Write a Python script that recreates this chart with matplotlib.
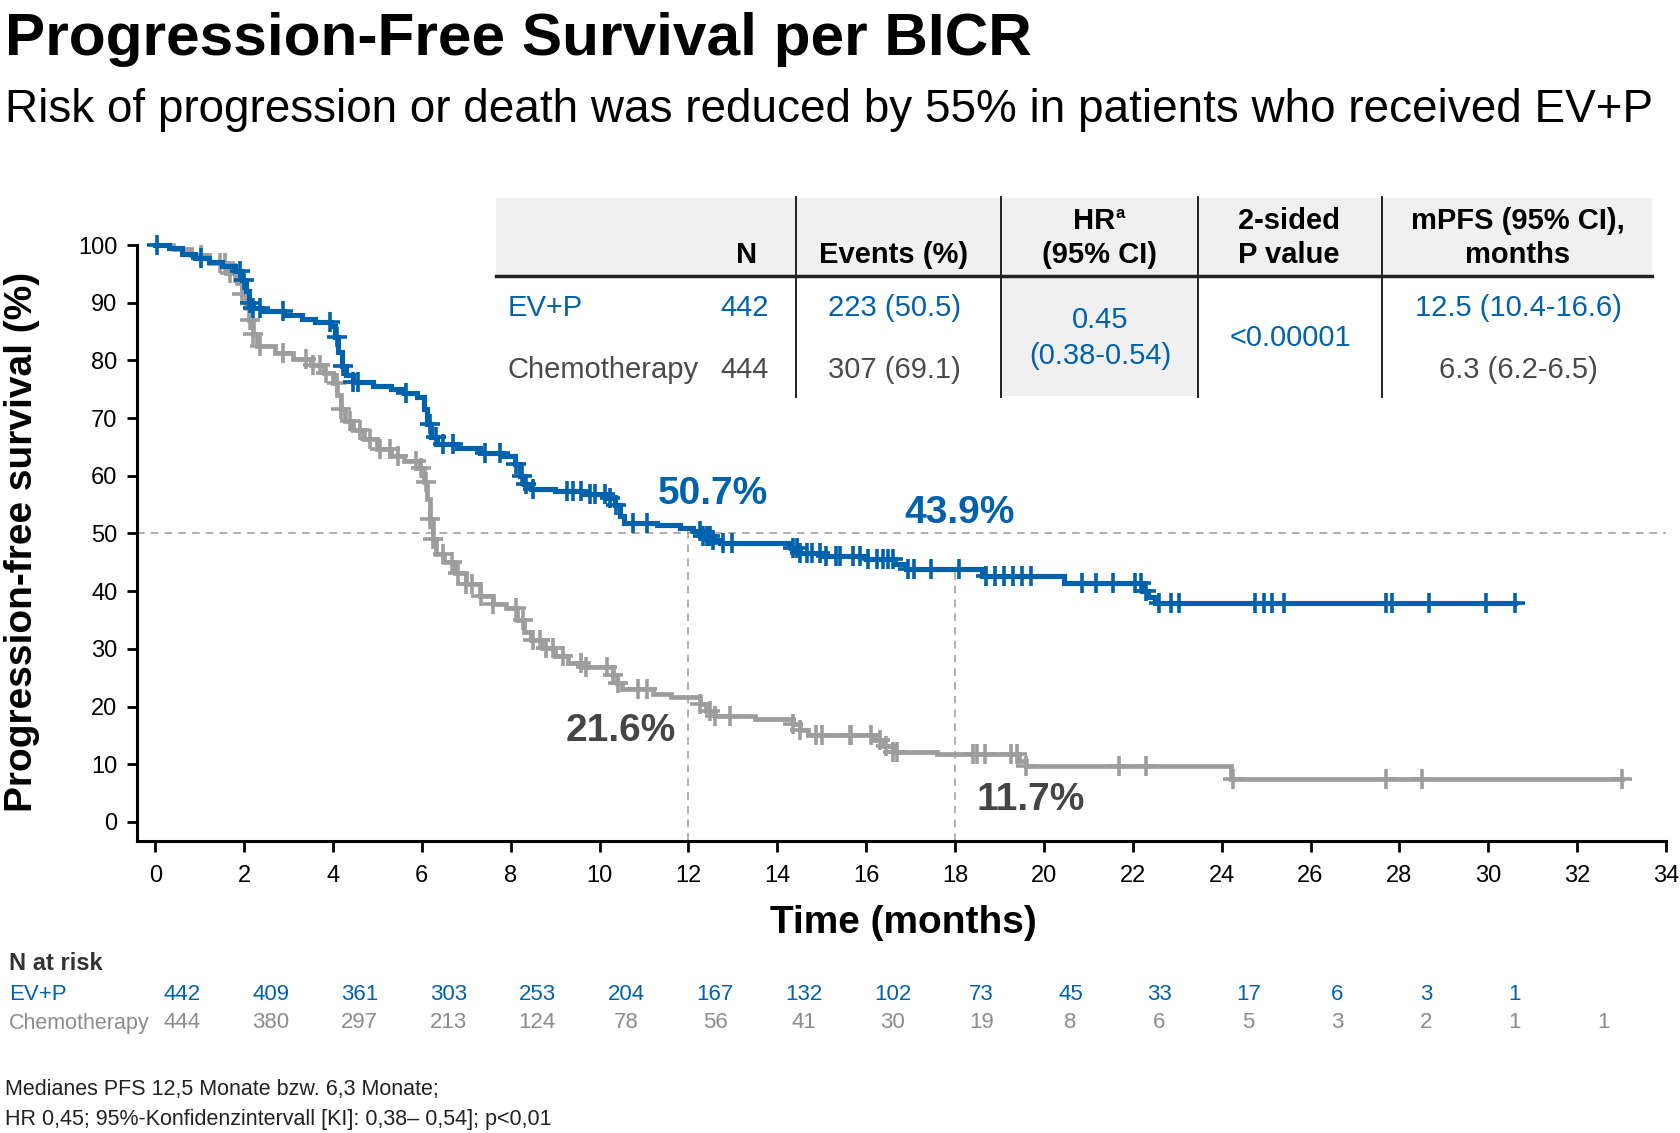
import numpy as np
import matplotlib
matplotlib.use("Agg")
import matplotlib.pyplot as plt
from matplotlib.patches import Rectangle
from matplotlib.lines import Line2D
import matplotlib.transforms as mtransforms

# ---------------- data ----------------
ev_times = [0, 0.3, 0.6, 0.9, 1.2, 1.5, 1.8, 1.95, 2.05, 2.12, 2.2, 2.4, 2.9, 3.3, 3.6, 3.95,
            4.05, 4.12, 4.2, 4.3, 4.45, 4.9, 5.3, 5.6, 5.9, 6.05, 6.12, 6.2, 6.35, 6.8, 7.3,
            7.8, 8.1, 8.2, 8.3, 8.45, 9.0, 9.6, 10.2, 10.35, 10.45, 10.55, 11.3, 11.8, 12.1,
            12.3, 12.5, 12.7, 14.3, 14.5, 15.0, 16.0, 16.65, 16.9, 18.6, 20.45, 22.2, 22.35,
            22.5, 30.6]
ev_surv = [100, 99.5, 98.5, 97.7, 97.0, 96.3, 95.5, 94.0, 92.0, 90.0, 89.0, 88.5, 87.9, 87.2,
           86.6, 85.9, 84.0, 81.5, 79.0, 77.5, 76.3, 75.6, 75.0, 74.4, 73.6, 71.5, 69.0, 66.8,
           65.5, 64.8, 64.0, 63.4, 62.0, 60.0, 58.5, 57.7, 57.3, 56.9, 56.2, 55.0, 53.0, 51.8,
           51.4, 51.0, 50.5, 49.5, 48.8, 48.3, 47.5, 46.6, 46.1, 45.5, 44.7, 43.9, 42.6, 41.5,
           40.0, 39.0, 38.0, 38.0]
ev_censor = [0.03, 1.04, 1.9, 2.0, 2.13, 2.2, 2.35, 2.88, 3.93, 4.08, 4.23, 4.45, 4.57, 5.65,
             6.18, 6.33, 6.48, 6.7, 7.42, 7.76, 8.13, 8.25, 8.35, 8.5, 9.26, 9.4, 9.59, 9.78,
             9.9, 10.12, 10.23, 10.38, 10.76, 11.06, 12.26, 12.33, 12.41, 12.48, 12.56, 12.78,
             12.97, 14.36, 14.44, 14.51, 14.66, 14.77, 14.96, 15.09, 15.33, 15.4, 15.7, 15.86,
             16.05, 16.24, 16.37, 16.5, 16.6, 16.94, 17.07, 17.45, 18.1, 18.7, 18.9, 19.1, 19.3,
             19.5, 19.7, 20.85, 21.17, 21.55, 22.06, 22.19, 22.3, 22.6, 22.85, 23.05, 24.75,
             24.95, 25.14, 25.4, 27.7, 27.83, 28.66, 29.94, 30.6]

ch_times = [0, 0.4, 0.8, 1.2, 1.6, 1.85, 1.95, 2.05, 2.12, 2.2, 2.3, 2.7, 3.1, 3.5, 3.8, 4.0,
            4.1, 4.18, 4.28, 4.45, 4.7, 5.0, 5.3, 5.6, 5.95, 6.05, 6.12, 6.18, 6.25, 6.32, 6.5,
            6.75, 7.0, 7.3, 7.6, 7.9, 8.15, 8.3, 8.45, 8.7, 9.0, 9.3, 9.65, 10.3, 10.4, 10.5,
            11.2, 11.6, 12.25, 12.4, 12.6, 13.5, 14.35, 14.5, 14.7, 16.2, 16.4, 16.6, 17.6,
            19.45, 19.6, 24.2, 33.0]
ch_surv = [100, 99.3, 98.2, 96.8, 95.2, 93.5, 91.5, 89.0, 87.0, 84.5, 82.5, 81.3, 80.2, 79.2,
           77.8, 76.0, 74.0, 71.5, 69.5, 68.0, 66.3, 64.6, 63.4, 62.6, 61.4, 59.0, 56.0, 52.5,
           49.0, 46.5, 45.0, 43.2, 41.3, 39.2, 37.7, 37.0, 35.0, 33.0, 31.5, 30.2, 28.8, 27.6,
           26.8, 25.5, 24.0, 23.0, 22.2, 21.6, 20.5, 19.3, 18.4, 17.8, 17.0, 16.0, 15.1, 14.2,
           13.2, 12.2, 11.7, 10.5, 9.7, 7.4, 7.4]
ch_censor = [1.04, 1.45, 1.57, 1.68, 1.79, 1.95, 2.13, 2.2, 2.35, 2.88, 3.4, 3.55, 3.7, 3.85,
             4.08, 4.19, 4.38, 4.6, 4.83, 5.06, 5.28, 5.47, 5.88, 5.99, 6.1, 6.18, 6.26, 6.48,
             6.67, 6.82, 7.0, 7.12, 7.34, 7.6, 8.13, 8.28, 8.5, 8.66, 8.8, 8.95, 9.18, 9.59, 9.7,
             10.16, 10.3, 10.42, 10.87, 11.06, 12.26, 12.48, 12.6, 12.93, 14.36, 14.51, 14.88,
             15.0, 15.63, 15.66, 16.1, 16.3, 16.45, 16.6, 16.7, 18.4, 18.5, 18.67, 19.25, 19.4,
             19.6, 21.7, 22.3, 24.25, 27.7, 28.5, 33.0]

risk_times = [0, 2, 4, 6, 8, 10, 12, 14, 16, 18, 20, 22, 24, 26, 28, 30, 32]
risk_ev = [442, 409, 361, 303, 253, 204, 167, 132, 102, 73, 45, 33, 17, 6, 3, 1]
risk_ch = [444, 380, 297, 213, 124, 78, 56, 41, 30, 19, 8, 6, 5, 3, 2, 1, 1]

landmarks = [12, 18]
ev_landmark = [50.7, 43.9]
ch_landmark = [21.6, 11.7]

table_groups = ["EV+P", "Chemotherapy"]
table_n = [442, 444]
table_events = ["223 (50.5)", "307 (69.1)"]
table_hr = ["0.45", "(0.38-0.54)"]
table_p = "<0.00001"
table_mpfs = ["12.5 (10.4-16.6)", "6.3 (6.2-6.5)"]

# ---------------- style ----------------
plt.rcParams["font.family"] = ["Liberation Sans", "DejaVu Sans"]
BLUE = "#0062AD"
GRAY = "#9D9D9D"
DARK = "#4A4A4A"
ANN_GRAY = "#454545"
RISK_GRAY = "#8C8C8C"

W, H = 1680, 1133
fig = plt.figure(figsize=(W / 100, H / 100), dpi=100)


def fx(px):
    return px / W


def fy(py):
    return 1 - py / H


# titles
fig.text(fx(5), fy(55), "Progression-Free Survival per BICR", fontsize=43.5, fontweight="bold",
         ha="left", va="baseline", color="black")
fig.text(fx(5), fy(122), "Risk of progression or death was reduced by 55% in patients who received EV+P",
         fontsize=33, ha="left", va="baseline", color="black")

# main axes
ax = fig.add_axes([fx(137), fy(841), (1666 - 137) / W, (841 - 245) / H])
ax.set_xlim(-0.41, 34)
ax.set_ylim(-3.3, 100)
for s in ["top", "right"]:
    ax.spines[s].set_visible(False)
for s in ["left", "bottom"]:
    ax.spines[s].set_linewidth(2.2)
ax.set_xticks(np.arange(0, 35, 2))
ax.set_yticks(np.arange(0, 101, 10))
ax.tick_params(axis="x", length=8, width=2, pad=9, labelsize=17)
ax.tick_params(axis="y", length=7, width=2, pad=7, labelsize=17)

# reference dashed lines
dash = dict(color="#9A9A9A", lw=1.1, dashes=(5, 4))
ax.plot([-0.41, 34], [50, 50], clip_on=False, **dash)
for t, v in zip(landmarks, ev_landmark):
    ax.plot([t, t], [-3.3, v], **dash)


def step_val(times, surv, t):
    i = np.searchsorted(times, t, side="right") - 1
    return surv[max(i, 0)]


# curves
for times, surv, cens, col, lw in [(ch_times, ch_surv, ch_censor, GRAY, 3.4),
                                    (ev_times, ev_surv, ev_censor, BLUE, 3.7)]:
    ax.step(times, surv, where="post", color=col, lw=lw, clip_on=False, zorder=3,
            solid_joinstyle="miter")
    cy = [step_val(np.array(times), surv, c) for c in cens]
    ax.plot(cens, cy, linestyle="none", marker="+", markersize=15, mew=2.6, color=col,
            clip_on=False, zorder=3)

# landmark labels
ax.text(12.56, 56.9, f"{ev_landmark[0]}%", color=BLUE, fontsize=28, fontweight="bold",
        ha="center", va="center")
ax.text(18.1, 53.6, f"{ev_landmark[1]}%", color=BLUE, fontsize=28, fontweight="bold",
        ha="center", va="center")
ax.text(10.48, 15.8, f"{ch_landmark[0]}%", color=ANN_GRAY, fontsize=28, fontweight="bold",
        ha="center", va="center")
ax.text(19.7, 3.8, f"{ch_landmark[1]}%", color=ANN_GRAY, fontsize=28, fontweight="bold",
        ha="center", va="center")

# axis labels
fig.text(fx(903), fy(923), "Time (months)", fontsize=28, fontweight="bold", ha="center",
         va="center")
fig.text(fx(22), fy(542), "Progression-free survival (%)", fontsize=28, fontweight="bold",
         ha="center", va="center", rotation=90)

# ---------------- table ----------------
fig.patches.append(Rectangle((fx(496), fy(276)), (1652 - 496) / W, (276 - 198) / H,
                             transform=fig.transFigure, facecolor="#F0F0F0", edgecolor="none",
                             zorder=0))
fig.patches.append(Rectangle((fx(1001), fy(396)), (1198 - 1001) / W, (396 - 276) / H,
                             transform=fig.transFigure, facecolor="#F0F0F0", edgecolor="none",
                             zorder=0))
fig.lines.append(Line2D([fx(496), fx(1652)], [fy(276), fy(276)], transform=fig.transFigure,
                        color="#222222", lw=2.5))
for vx in [796, 1001, 1198, 1382]:
    fig.lines.append(Line2D([fx(vx), fx(vx)], [fy(197), fy(397)], transform=fig.transFigure,
                            color="#222222", lw=1.4))

hdr = dict(fontsize=21, fontweight="bold", va="center", color="black")
fig.text(fx(757), fy(255), "N", ha="right", **hdr)
fig.text(fx(894), fy(255), "Events (%)", ha="center", **hdr)
fig.text(fx(1094), fy(221), "HR", ha="center", **hdr)
fig.text(fx(1116), fy(213), "a", ha="left", fontsize=12, fontweight="bold", va="center",
         color="black")
fig.text(fx(1100), fy(255), "(95% CI)", ha="center", **hdr)
fig.text(fx(1289), fy(221), "2-sided", ha="center", **hdr)
fig.text(fx(1289), fy(255), "P value", ha="center", **hdr)
fig.text(fx(1518), fy(221), "mPFS (95% CI),", ha="center", **hdr)
fig.text(fx(1518), fy(255), "months", ha="center", **hdr)

row_y = [308, 370]
row_col = [BLUE, DARK]
for i in range(2):
    kw = dict(fontsize=21, va="center", color=row_col[i])
    fig.text(fx(508), fy(row_y[i]), table_groups[i], ha="left", **kw)
    fig.text(fx(769), fy(row_y[i]), str(table_n[i]), ha="right", **kw)
    fig.text(fx(894), fy(row_y[i]), table_events[i], ha="center", **kw)
    fig.text(fx(1518), fy(row_y[i]), table_mpfs[i], ha="center", **kw)
fig.text(fx(1100), fy(320), table_hr[0], ha="center", va="center", fontsize=21, color=BLUE)
fig.text(fx(1100), fy(356), table_hr[1], ha="center", va="center", fontsize=21, color=BLUE)
fig.text(fx(1290), fy(338), table_p, ha="center", va="center", fontsize=21, color=BLUE)

# ---------------- number at risk ----------------
fig.text(fx(9), fy(964), "N at risk", fontsize=17, fontweight="bold", ha="left", va="center",
         color="#333333")
fig.text(fx(9), fy(994), "EV+P", fontsize=16, ha="left", va="center", color=BLUE)
fig.text(fx(9), fy(1023), "Chemotherapy", fontsize=15.5, ha="left", va="center",
         color=RISK_GRAY)
blend = mtransforms.blended_transform_factory(ax.transData, fig.transFigure)
for t, n in zip(risk_times, risk_ev):
    fig.text(t + 0.6, fy(994), str(n), transform=blend, fontsize=16, ha="center", va="center",
             color=BLUE)
for t, n in zip(risk_times, risk_ch):
    fig.text(t + 0.6, fy(1023), str(n), transform=blend, fontsize=16, ha="center", va="center",
             color=RISK_GRAY)

# footnote
fig.text(fx(5), fy(1090), "Medianes PFS 12,5 Monate bzw. 6,3 Monate;", fontsize=15.5,
         ha="left", va="center", color="#222222")
fig.text(fx(5), fy(1119), "HR 0,45; 95%-Konfidenzintervall [KI]: 0,38\u2013 0,54]; p<0,01",
         fontsize=15.5, ha="left", va="center", color="#222222")

fig.savefig("out.png", dpi=100)
